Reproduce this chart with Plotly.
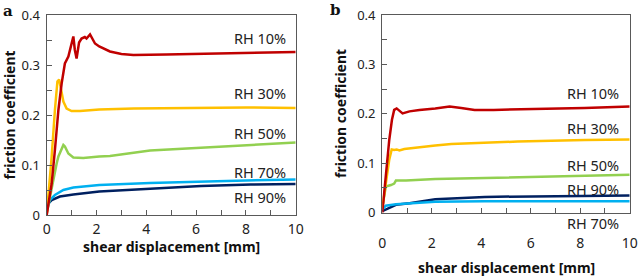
import plotly.graph_objects as go

# ---------------- data ----------------
# Panel a
a_rh10_x = [0, 0.2, 0.33, 0.47, 0.6, 0.73, 0.87, 1.0, 1.07, 1.13, 1.2, 1.3, 1.4, 1.53, 1.6, 1.74, 1.94, 2.11, 2.54, 3.0, 3.48, 4.8, 6.0, 7.5, 8.5, 10]
a_rh10_y = [0, 0.063, 0.13, 0.21, 0.263, 0.303, 0.317, 0.345, 0.357, 0.33, 0.313, 0.345, 0.353, 0.356, 0.353, 0.361, 0.343, 0.337, 0.327, 0.322, 0.32, 0.321, 0.322, 0.324, 0.325, 0.326]
a_rh30_x = [0, 0.07, 0.2, 0.33, 0.43, 0.5, 0.56, 0.67, 0.8, 1.0, 1.34, 2.11, 3.5, 5.0, 6.2, 8.0, 10]
a_rh30_y = [0, 0.037, 0.117, 0.21, 0.267, 0.271, 0.257, 0.227, 0.213, 0.208, 0.208, 0.211, 0.213, 0.214, 0.215, 0.215, 0.214]
a_rh50_x = [0, 0.13, 0.27, 0.4, 0.47, 0.53, 0.67, 0.73, 0.87, 1.07, 1.47, 2.11, 2.54, 4.15, 6.16, 8.2, 10]
a_rh50_y = [0.003, 0.037, 0.077, 0.103, 0.117, 0.123, 0.14, 0.137, 0.123, 0.115, 0.114, 0.117, 0.118, 0.129, 0.135, 0.140, 0.145]
a_rh70_x = [0, 0.13, 0.33, 0.67, 1.07, 2.11, 4.15, 6.2, 8.0, 10]
a_rh70_y = [0.01, 0.03, 0.04, 0.05, 0.055, 0.06, 0.064, 0.067, 0.069, 0.071]
a_rh90_x = [0, 0.2, 0.53, 1.07, 2.11, 4.15, 6.2, 8.2, 10]
a_rh90_y = [0.02, 0.03, 0.037, 0.041, 0.047, 0.053, 0.058, 0.061, 0.062]

# Panel b
b_rh10_x = [0, 0.14, 0.28, 0.39, 0.48, 0.58, 0.72, 0.82, 1.1, 1.5, 2.14, 2.72, 3.19, 3.73, 4.5, 5.48, 6.8, 8.18, 10]
b_rh10_y = [0, 0.073, 0.147, 0.188, 0.208, 0.211, 0.204, 0.201, 0.205, 0.208, 0.211, 0.215, 0.212, 0.208, 0.208, 0.209, 0.210, 0.212, 0.215]
b_rh30_x = [0, 0.14, 0.28, 0.38, 0.48, 0.58, 0.69, 0.89, 1.36, 2.14, 2.79, 4.0, 5.47, 8.2, 10]
b_rh30_y = [0.01, 0.06, 0.107, 0.128, 0.127, 0.128, 0.126, 0.129, 0.132, 0.136, 0.139, 0.141, 0.144, 0.147, 0.148]
b_rh50_x = [0, 0.14, 0.35, 0.48, 0.55, 0.96, 2.14, 4.14, 6.83, 10]
b_rh50_y = [0.01, 0.053, 0.056, 0.059, 0.065, 0.065, 0.068, 0.07, 0.073, 0.077]
b_rh70_x = [0, 0.14, 0.55, 1.1, 2.14, 4.14, 6.83, 10]
b_rh70_y = [0.006, 0.014, 0.017, 0.019, 0.022, 0.023, 0.023, 0.023]
b_rh90_x = [0, 0.55, 1.1, 2.14, 4.14, 6.83, 10]
b_rh90_y = [0.003, 0.016, 0.019, 0.027, 0.032, 0.034, 0.035]

labels = ["RH 10%", "RH 30%", "RH 50%", "RH 70%", "RH 90%"]
colors = {"RH 10%": "#c00000", "RH 30%": "#ffc000", "RH 50%": "#92d050",
          "RH 70%": "#00b0f0", "RH 90%": "#002060"}

a_series = {"RH 10%": (a_rh10_x, a_rh10_y), "RH 30%": (a_rh30_x, a_rh30_y),
            "RH 50%": (a_rh50_x, a_rh50_y), "RH 70%": (a_rh70_x, a_rh70_y),
            "RH 90%": (a_rh90_x, a_rh90_y)}
b_series = {"RH 10%": (b_rh10_x, b_rh10_y), "RH 30%": (b_rh30_x, b_rh30_y),
            "RH 50%": (b_rh50_x, b_rh50_y), "RH 70%": (b_rh70_x, b_rh70_y),
            "RH 90%": (b_rh90_x, b_rh90_y)}

# label vertical positions (pixels from top of picture)
a_label_px = {"RH 10%": 38, "RH 30%": 93, "RH 50%": 133, "RH 70%": 171.5, "RH 90%": 196.5}
b_label_px = {"RH 10%": 93.3, "RH 30%": 128.3, "RH 50%": 165, "RH 90%": 189.3, "RH 70%": 222.5}

FONT = "Noto Sans"
AX = "#595959"
W, H = 638, 277

fig = go.Figure()
draw_order = ["RH 90%", "RH 70%", "RH 50%", "RH 30%", "RH 10%"]
for name in draw_order:
    x, y = a_series[name]
    fig.add_trace(go.Scatter(x=x, y=y, mode="lines", line=dict(color=colors[name], width=2.5),
                             xaxis="x", yaxis="y", showlegend=False))
for name in draw_order:
    x, y = b_series[name]
    fig.add_trace(go.Scatter(x=x, y=y, mode="lines", line=dict(color=colors[name], width=2.5),
                             xaxis="x2", yaxis="y2", showlegend=False))

def xax(domain, anchor, standoff):
    return dict(domain=domain, anchor=anchor, range=[0, 10], dtick=2, tick0=0,
                ticks="inside", ticklen=5, tickcolor=AX, showline=True, linecolor=AX,
                linewidth=1.3, mirror=True, showgrid=False, zeroline=False, automargin=False,
                tickfont=dict(family=FONT, size=14, color="#222"),
                minor=dict(dtick=1, ticks="inside", ticklen=5, tickcolor=AX),
                ticklabelstandoff=standoff)

def yax(domain, anchor):
    return dict(domain=domain, anchor=anchor, range=[0, 0.4], dtick=0.1, tick0=0,
                ticks="inside", ticklen=5, tickcolor=AX, showline=True, linecolor=AX,
                linewidth=1.3, mirror=True, showgrid=False, zeroline=False, automargin=False,
                tickfont=dict(family=FONT, size=13, color="#222"),
                minor=dict(dtick=0.05, ticks="inside", ticklen=5, tickcolor=AX),
                ticklabelstandoff=3)

fig.update_layout(
    width=W, height=H, margin=dict(l=0, r=0, t=0, b=0, autoexpand=False),
    paper_bgcolor="white", plot_bgcolor="white",
    xaxis=xax([46.7 / W, 295.7 / W], "y", 1),
    yaxis=yax([1 - 215 / H, 1 - 15 / H], "x"),
    xaxis2=xax([382.3 / W, 629.7 / W], "y2", 17),
    yaxis2=yax([1 - 212.7 / H, 1 - 15 / H], "x2"),
)

lab_font = dict(family=FONT, size=14.5, color="#222")
ann = []
for name in labels:
    ann.append(dict(x=287 / W, y=1 - a_label_px[name] / H, xref="paper", yref="paper", text=name,
                    showarrow=False, xanchor="right", yanchor="middle", font=lab_font, borderpad=0))
    ann.append(dict(x=620 / W, y=1 - b_label_px[name] / H, xref="paper", yref="paper", text=name,
                    showarrow=False, xanchor="right", yanchor="middle", font=lab_font, borderpad=0))

title_font = dict(family=FONT, size=14, color="#111")
ann += [
    dict(x=171 / W, y=1 - 246 / H, xref="paper", yref="paper", text="<b>shear displacement [mm]</b>",
         showarrow=False, xanchor="center", yanchor="middle", font=title_font),
    dict(x=506 / W, y=1 - 267 / H, xref="paper", yref="paper", text="<b>shear displacement [mm]</b>",
         showarrow=False, xanchor="center", yanchor="middle", font=title_font),
    dict(x=8.5 / W, y=1 - 115 / H, xref="paper", yref="paper", text="<b>friction coefficient</b>",
         showarrow=False, xanchor="center", yanchor="middle", textangle=-90, font=title_font),
    dict(x=340 / W, y=1 - 114 / H, xref="paper", yref="paper", text="<b>friction coefficient</b>",
         showarrow=False, xanchor="center", yanchor="middle", textangle=-90, font=title_font),
    dict(x=7.5 / W, y=1 - 11 / H, xref="paper", yref="paper", text="<b>a</b>", showarrow=False,
         xanchor="center", yanchor="middle", font=dict(family="DejaVu Serif", size=15, color="#111")),
    dict(x=335 / W, y=1 - 10 / H, xref="paper", yref="paper", text="<b>b</b>", showarrow=False,
         xanchor="center", yanchor="middle", font=dict(family="DejaVu Serif", size=15, color="#111")),
]
fig.update_layout(annotations=ann)

fig.write_html("out.html", config={"displayModeBar": False},
               post_script="document.body.style.margin='0';document.body.style.padding='0';")
